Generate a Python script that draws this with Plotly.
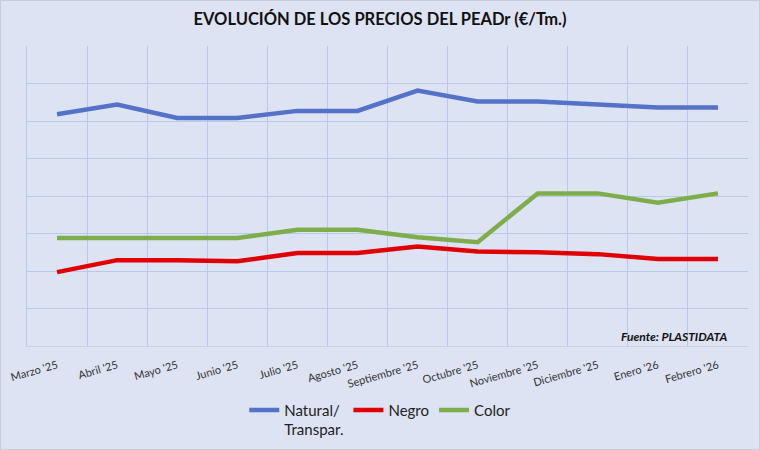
import plotly.graph_objects as go

meses = ["Marzo '25", "Abril '25", "Mayo '25", "Junio '25", "Julio '25", "Agosto '25",
         "Septiembre '25", "Octubre '25", "Noviembre '25", "Diciembre '25", "Enero '26", "Febrero '26"]

natural = [1236, 1288, 1216, 1216, 1254, 1254, 1362, 1304, 1304, 1288, 1272, 1272]
negro = [394, 458, 458, 452, 496, 496, 530, 504, 500, 490, 464, 464]
color = [576, 576, 576, 576, 620, 620, 580, 554, 814, 814, 764, 814]

fondo = "#dde3f3"
rejilla = "#b9c9ea"

fig = go.Figure()
fig.add_trace(go.Scatter(x=meses, y=natural, name="Natural/<br>Transpar.", mode="lines",
                         line=dict(color="#5472c7", width=4.5)))
fig.add_trace(go.Scatter(x=meses, y=negro, name="Negro", mode="lines",
                         line=dict(color="#e00000", width=4.5)))
fig.add_trace(go.Scatter(x=meses, y=color, name="Color", mode="lines",
                         line=dict(color="#7dae4b", width=4.5)))

fig.update_layout(
    width=760, height=450,
    paper_bgcolor=fondo, plot_bgcolor=fondo,
    margin=dict(l=27, r=12, t=46, b=104),
    font=dict(family="Lato, Open Sans, sans-serif", color="#333333"),
    title=dict(text="<b>EVOLUCIÓN DE LOS PRECIOS DEL PEADr (€/Tm.)</b>",
               x=0.5, xanchor="center", y=0.958, yanchor="middle",
               font=dict(size=16.5, color="#111111")),
    showlegend=True,
    legend=dict(orientation="h", x=0.49, xanchor="center", yref="container", y=0.125,
                yanchor="top", font=dict(size=15, color="#222222"), itemwidth=30,
                traceorder="normal", valign="top"),
)

fig.update_xaxes(type="category", tickson="boundaries", showgrid=True, gridcolor=rejilla,
                 gridwidth=1, tickangle=-16, tickfont=dict(size=11, color="#333333"),
                 ticks="", ticklabelstandoff=8, showline=True, linecolor="#c9d0df",
                 linewidth=1, range=[-0.5, 11.5], zeroline=False, automargin=False)
fig.update_yaxes(range=[0, 1600], dtick=200, showgrid=True, gridcolor=rejilla, gridwidth=1,
                 showticklabels=False, zeroline=False, showline=True, linecolor=rejilla,
                 automargin=False)

fig.add_annotation(text="<b><i>Fuente: PLASTIDATA</i></b>", xref="paper", yref="paper",
                   x=0.973, y=0.0, xanchor="right", yanchor="bottom", showarrow=False,
                   font=dict(size=12, color="#111111"))

# marco fino alrededor de todo el gráfico
fig.add_shape(type="rect", xref="paper", yref="paper", x0=-0.0367, x1=1.0160,
              y0=-0.3450, y1=1.1517, line=dict(color="#c7ccd8", width=1), layer="below")

# quitar el margen del body para que el gráfico ocupe toda la ventana
fig.write_html("out.html", config={"displayModeBar": False},
               post_script="document.body.style.margin='0';")
